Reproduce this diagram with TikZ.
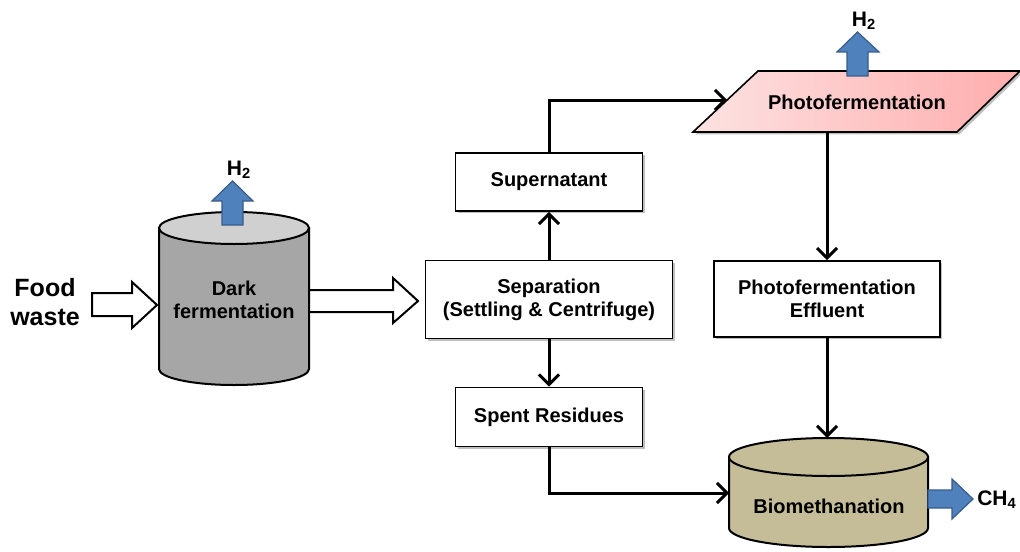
\documentclass[tikz,border=0pt]{standalone}
\usepackage{fontspec}
\setmainfont{Liberation Sans}
\usetikzlibrary{arrows.meta}
\usetikzlibrary{shadows}
\definecolor{darkside}{HTML}{A6A6A6}
\definecolor{darktop}{HTML}{D0D0D0}
\definecolor{bioside}{HTML}{C4BD97}
\definecolor{gasblue}{HTML}{4F81BD}
\definecolor{gasedge}{HTML}{385D8A}
\definecolor{pinkleft}{HTML}{FDE2E2}
\definecolor{pinkright}{HTML}{FFADAD}

\begin{document}
\begin{tikzpicture}[x=0.5pt,y=-0.5pt,
        blockbox/.style={draw, line width=0.9pt, fill=white, align=center, inner sep=0pt,
            font=\fontsize{10}{11.5}\selectfont\bfseries,
            drop shadow={shadow xshift=1.2pt, shadow yshift=-1.2pt, fill=black, opacity=0.25}},
        txt/.style={align=center, inner sep=0pt, font=\fontsize{10}{11.5}\selectfont\bfseries},
        gastxt/.style={inner sep=0pt, font=\fontsize{10.5}{12}\selectfont\bfseries},
        flow/.style={line width=1.5pt, -{Straight Barb[length=5pt,width=10pt]}},
        gas/.style={fill=gasblue, draw=gasedge, line width=0.6pt},
        hollow/.style={fill=white, draw=black, line width=1pt},
    ]
        \useasboundingbox[fill=white] (0,0) rectangle (1020,551);
        % dark fermentation reactor
        \draw[line width=1pt, fill=darkside] (159,228) -- (159,369)
            arc[start angle=180, end angle=360, x radius=37.5pt, y radius=8pt] -- (309,228) -- cycle;
        \draw[line width=1pt, fill=darktop] (234,228) ellipse[x radius=37.5pt, y radius=8pt];
        \node[txt] (dark) at (234,300) {Dark\\fermentation};
        \draw[gas] (222,225) -- (222,201) -- (212,201) -- (232.5,181) -- (253,201) -- (243,201) -- (243,225) -- cycle;
        \node[gastxt] (h2dark) at (239,170) {H\textsubscript{2}};
        % feed and outlet
        \node[txt, font=\fontsize{12.5}{14.5}\selectfont\bfseries] (food) at (45,302) {Food\\waste};
        \draw[hollow] (92,293) -- (132,293) -- (132,282) -- (157,305) -- (132,328) -- (132,316) -- (92,316) -- cycle;
        \draw[hollow] (309,290) -- (393,290) -- (393,278) -- (418,301) -- (393,323) -- (393,312) -- (309,312) -- cycle;
        % separation
        \node[blockbox, minimum width=123.5pt, minimum height=39pt] (sep) at (549,299.5) {Separation\\(Settling \& Centrifuge)};
        \node[blockbox, minimum width=93.5pt, minimum height=29pt] (super) at (549,182) {Supernatant};
        \node[blockbox, minimum width=93.5pt, minimum height=29.5pt] (spent) at (549,417) {Spent Residues};
        % photofermentation
        \path[draw, line width=0.8pt, left color=pinkleft, right color=pinkright,
            drop shadow={shadow xshift=1.2pt, shadow yshift=-1.2pt, fill=black, opacity=0.25}]
            (693,132) -- (758,71) -- (1020,71) -- (957,132) -- cycle;
        \node[txt] (photo) at (857,102) {Photofermentation};
        \draw[gas] (847,76) -- (847,52) -- (837,52) -- (857.5,32) -- (879,52) -- (868,52) -- (868,76) -- cycle;
        \node[gastxt] (h2photo) at (864,21) {H\textsubscript{2}};
        \coordinate (photoL) at (727,100);
        \coordinate (photoB) at (827,132);
        \node[blockbox, minimum width=113pt, minimum height=38pt] (effl) at (827,299) {Photofermentation\\Effluent};
        % biomethanation
        \draw[line width=1pt, fill=bioside] (729,457) -- (729,528)
            arc[start angle=180, end angle=360, x radius=49.75pt, y radius=9.5pt] -- (928,457) -- cycle;
        \draw[line width=1pt, fill=bioside] (828.5,457) ellipse[x radius=49.75pt, y radius=9.5pt];
        \node[txt] (bio) at (829,506) {Biomethanation};
        \coordinate (bioT) at (827,438);
        \coordinate (bioL) at (729,493);
        \draw[gas] (928,490) -- (952,490) -- (952,479) -- (973,499) -- (952,519) -- (952,508) -- (928,508) -- cycle;
        \node[gastxt] (ch4) at (997,500) {CH\textsubscript{4}};
        % flows
        \draw[flow] (sep.north) -- (super.south);
        \draw[flow] (sep.south) -- (spent.north);
        \draw[flow] (super.north) |- (photoL);
        \draw[flow] (photoB) -- (effl.north);
        \draw[flow] (effl.south) -- (bioT);
        \draw[flow] (spent.south) |- (bioL);
\end{tikzpicture}
\end{document}
